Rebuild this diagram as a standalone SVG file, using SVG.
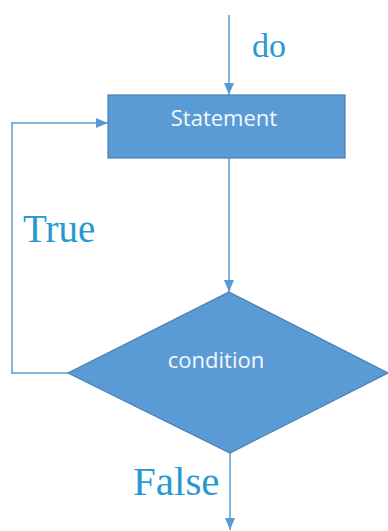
<svg xmlns="http://www.w3.org/2000/svg" width="388" height="531" viewBox="0 0 388 531">
<style>
.line{fill:none;stroke:#5b9bd5;stroke-width:1.5}
.shape{fill:#5b9bd5;stroke:#4a7fb5;stroke-width:1.2}
.inner{font-family:"Open Sans","Noto Sans",sans-serif;font-size:22px;fill:#f4f8fc;text-anchor:middle}
.lbl{font-family:"Liberation Serif","Times New Roman",serif;fill:#2699d0}
</style>
<defs>
<marker id="arr" viewBox="0 0 12 10" refX="12" refY="5" markerWidth="12" markerHeight="10" markerUnits="userSpaceOnUse" orient="auto">
<path d="M0,0 L12,5 L0,10 Z" fill="#5b9bd5"/>
</marker>
</defs>
<rect width="388" height="531" fill="#ffffff"/>
<g id="connectors">
<path class="line" d="M229,15 L229,95" marker-end="url(#arr)"/>
<path class="line" d="M229,158 L229,292" marker-end="url(#arr)"/>
<path class="line" d="M68,373 L12,373 L12,123 L108,123" marker-end="url(#arr)"/>
<path class="line" d="M230,453 L230,530" marker-end="url(#arr)"/>
</g>
<g id="statement">
<rect class="shape" x="108" y="95" width="237" height="63"/>
<text class="inner" x="224" y="126">Statement</text>
</g>
<g id="condition">
<polygon class="shape" points="229,292 388,373 230,453 68,373"/>
<text class="inner" x="216" y="368">condition</text>
</g>
<g id="labels">
<text class="lbl" x="252" y="57" font-size="34">do</text>
<text class="lbl" x="23" y="242" font-size="39">True</text>
<text class="lbl" x="133" y="495" font-size="41">False</text>
</g>
</svg>
